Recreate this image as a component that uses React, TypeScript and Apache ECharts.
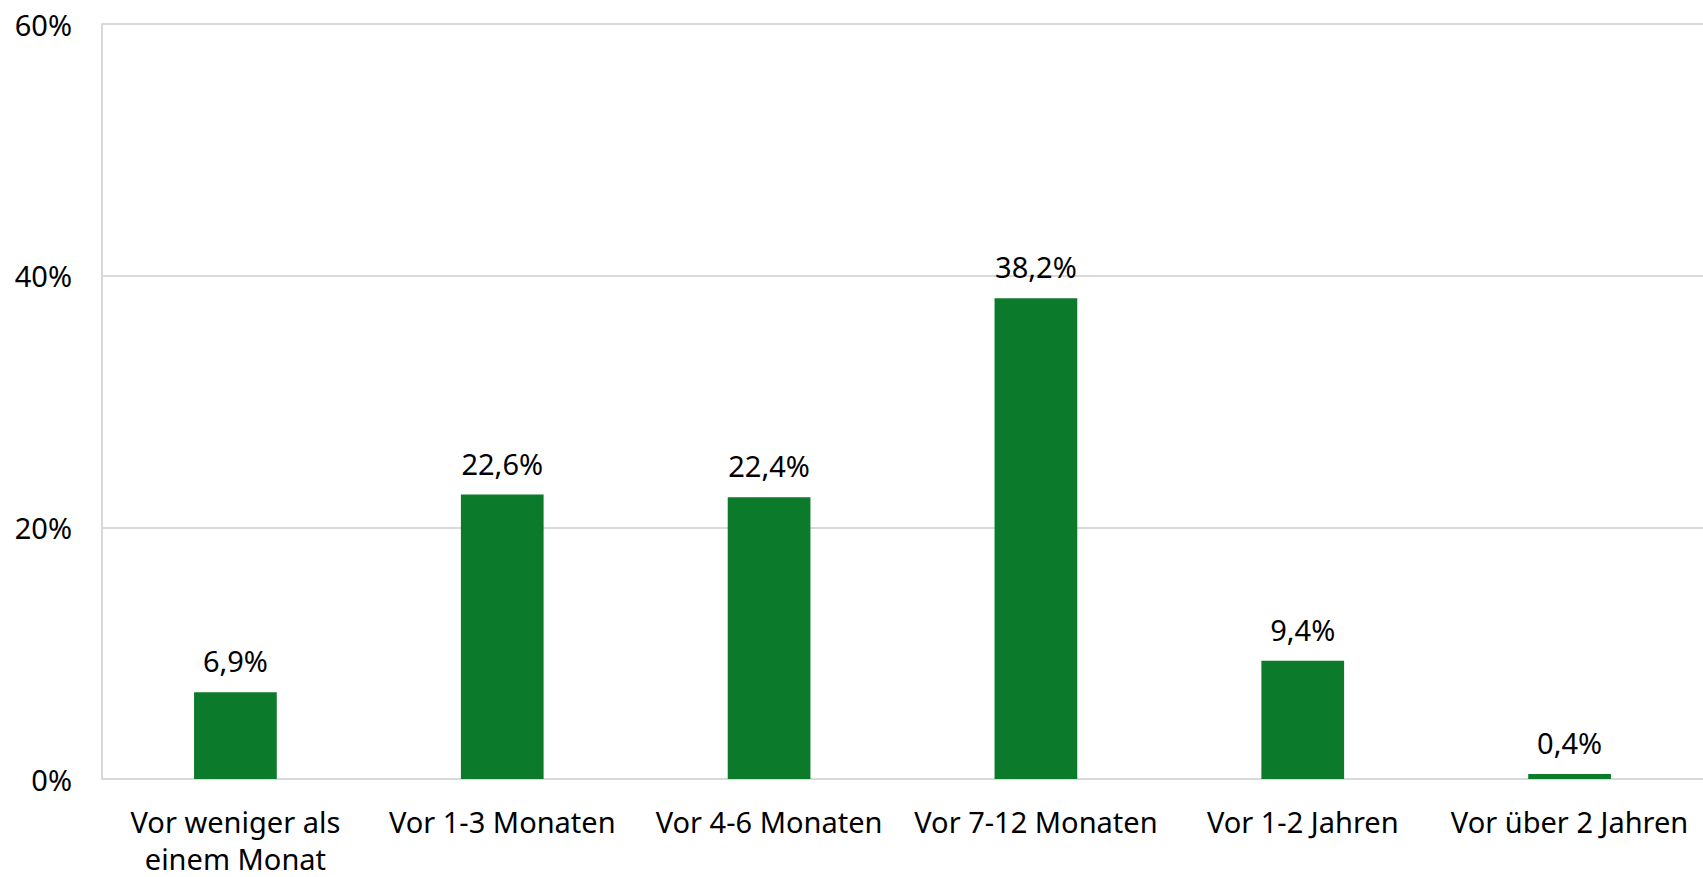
import React, { useEffect, useRef } from "react";
import * as echarts from "echarts";

const categories = [
  "Vor weniger als\neinem Monat",
  "Vor 1-3 Monaten",
  "Vor 4-6 Monaten",
  "Vor 7-12 Monaten",
  "Vor 1-2 Jahren",
  "Vor über 2 Jahren",
];
const values = [6.9, 22.6, 22.4, 38.2, 9.4, 0.4];
const yTicks = { min: 0, max: 60, interval: 20 };

const FONT = "'Noto Sans', sans-serif";

export default function App() {
  const ref = useRef<HTMLDivElement>(null);
  useEffect(() => {
    if (!ref.current) return;
    const chart = echarts.init(ref.current, undefined, { renderer: "svg" });
    chart.setOption({
      animation: false,
      backgroundColor: "#ffffff",
      textStyle: { fontFamily: FONT },
      grid: { left: 102, right: 0, top: 24, bottom: 91, containLabel: false },
      xAxis: {
        type: "category",
        data: categories,
        axisLine: { show: true, lineStyle: { color: "#d9d9d9", width: 2 } },
        axisTick: { show: false },
        axisLabel: {
          color: "#000",
          fontSize: 29,
          fontFamily: FONT,
          lineHeight: 37,
          margin: 24,
          interval: 0,
        },
      },
      yAxis: {
        type: "value",
        min: yTicks.min,
        max: yTicks.max,
        interval: yTicks.interval,
        axisLine: { show: true, lineStyle: { color: "#d9d9d9", width: 2 } },
        axisTick: { show: false },
        splitLine: { show: true, lineStyle: { color: "#d9d9d9", width: 2 } },
        axisLabel: {
          color: "#000",
          fontSize: 29,
          fontFamily: FONT,
          margin: 30,
          formatter: "{value}%",
        },
      },
      series: [
        {
          type: "bar",
          data: values,
          barWidth: "31%",
          itemStyle: { color: "#0b7a2a" },
          label: {
            show: true,
            position: "top",
            distance: 17,
            color: "#000",
            fontSize: 29,
            fontFamily: FONT,
            formatter: (p: any) => String(p.value).replace(".", ",") + "%",
          },
        },
      ],
    });
    return () => chart.dispose();
  }, []);
  return <div ref={ref} style={{ width: 1703, height: 877, position: "absolute", left: 0, top: 0 }} />;
}
